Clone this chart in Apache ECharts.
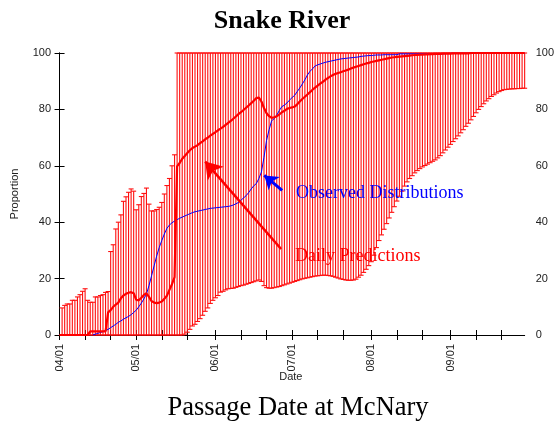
<!DOCTYPE html>
<html>
<head>
<meta charset="utf-8">
<script src="https://cdn.jsdelivr.net/npm/echarts@6/dist/echarts.min.js"></script>
<style>html,body{margin:0;padding:0;background:#fff;}#c{width:557px;height:425px;}</style>
</head>
<body>
<div id="c"></div>
<script>
// Day index 0 = 04/01, axis from 03/31 (-1) to 09/30 (182)
const monthLabels = ['04/01','05/01','06/01','07/01','08/01','09/01'];
const monthDays = [0, 30, 61, 91, 122, 153];
const tickDays = [0,10,20,30,40,50,61,71,81,91,101,111,122,132,142,153,163,173];
const yTicks = [0,20,40,60,80,100];

// Daily prediction interval upper bound (index = day)
const hiVals = [null,
 9.6,10.5,11,11,12.3,12.3,13.5,14.3,15.5,16.4,
 12.3,11.6,11.6,13.5,13.5,14,14.3,15.1,15.4,29.6,
 32,37.6,40,42.6,47.4,49,50.6,51.8,51,44.4,
 46.2,49.1,50.2,52.1,46.4,44,44,44.5,45.3,47,
 50,53,55.5,60,63.9,100,100,100,100,100,
 100,100,100,100,100,100,100,100,100,100,
 100,100,100,100,100,100,100,100,100,100,
 100,100,100,100,100,100,100,100,100,100,
 100,100,100,100,100,100,100,100,100,100,
 100,100,100,100,100,100,100,100,100,100,
 100,100,100,100,100,100,100,100,100,100,
 100,100,100,100,100,100,100,100,100,100,
 100,100,100,100,100,100,100,100,100,100,
 100,100,100,100,100,100,100,100,100,100,
 100,100,100,100,100,100,100,100,100,100,
 100,100,100,100,100,100,100,100,100,100,
 100,100,100,100,100,100,100,100,100,100,
 100,100,100,100,100,100,100,100,100,100,
 100,100];

// Daily prediction interval lower bound
const loVals = [null,
 0,0,0,0,0,0,0,0,0,0,
 0,0,0,0,0,0,0,0,0,0,
 0,0,0,0,0,0,0,0,0,0,
 0,0,0,0,0,0,0,0,0,0,
 0,0,0,0,0,0,0,0,0.3,
 1,2,3.2,3.8,4.8,5.8,7,8.4,9.6,11.2,
 12.3,13.2,14,15.2,15.5,16,16.4,16.5,16.6,16.9,
 17.2,17.5,17.7,18,18.3,18.6,18.9,19.2,19.5,19,
 17.5,16.8,16.6,16.6,16.8,17,17.2,17.5,17.8,18.1,
 18.4,18.7,19,19.3,19.6,19.9,20.1,20.3,20.5,20.7,
 20.9,21,21.1,21.2,21.2,21.1,21,20.8,20.5,20.2,
 19.9,19.7,19.5,19.4,19.4,19.5,19.8,20.5,21.2,22.2,
 23.3,24.6,26,28.3,31,33.5,35.5,37.5,39.5,41.5,
 43.5,45.5,47.5,49.2,51,52.8,54.3,55.5,56.5,57.5,
 58.3,59,59.6,60.1,60.6,61.1,61.6,62.1,62.8,63.6,
 64.6,65.6,66.6,67.6,68.6,69.6,70.6,71.7,72.8,74,
 75.1,76.3,77.5,78.8,80,81,82,83,83.8,84.6,
 85.2,85.8,86.3,86.7,87,87.1,87.2,87.3,87.3,87.4,
 87.4,87.5,87.5];

// Daily prediction (median)
const medVals = [
 0,0,0,0,0,0,0,0,0,0,0,0,
 1.3,1.3,1.3,1.3,1.3,1.3,1.3,
 8,8.8,10,10.8,11.5,13,14,14.6,15,15.2,
 14.8,12.5,12.3,13.2,14.2,14.8,13.5,12,11.5,11.3,
 11.5,11.9,12.8,13.9,16,18,20.5,
 59.8,61,62.5,63.5,64.5,65.5,
 66.3,66.8,67.3,68,68.7,69.4,70,70.7,71.3,71.9,
 72.6,73.2,73.8,74.5,75.2,75.9,76.7,77.5,78.3,79,
 79.8,80.6,81.4,82.2,83.1,84,84.2,82.8,80.5,78.6,
 77.6,77,77.2,77.6,78.2,79,79.5,80.2,80.5,80.7,
 81,81.8,82.8,83.7,84.5,85.3,86.1,87,87.7,88.4,
 89.1,89.8,90.5,91.1,91.7,92.2,92.6,92.9,93.2,93.5,
 93.8,94.1,94.5,94.8,95.1,95.4,95.7,96,96.3,96.5,
 96.8,97,97.2,97.4,97.6,97.8,98,98.2,98.4,98.5,
 98.6,98.7,98.8,98.9,99,99.1,99.2,99.3,99.3,99.4,
 99.4,99.5,99.5,99.6,99.6,99.7,99.7,99.7,99.8,99.8,
 99.8,99.8,99.9,99.9,99.9,99.9,99.9,99.9,99.9,100,
 100,100,100,100,100,100,100,100,100,100,
 100,100,100,100,100,100,100,100,100,100,100];

// Observed distribution
const obsVals = [
 null,null,null,null,null,null,null,null,null,null,null,null,null,
 0,0.3,0.6,0.9,1.2,1.6,2,2.6,3.2,3.8,
 4.5,5,5.6,6.1,6.6,7.2,8,8.8,10,11.3,
 12.8,14.5,17.5,21,24.5,28,31,33.5,35.8,37.8,
 39,39.8,40.4,40.9,41.4,41.8,42.2,42.6,43,43.4,
 43.7,43.9,44.1,44.3,44.5,44.7,44.9,45,45.1,45.2,
 45.3,45.4,45.5,45.6,45.8,46.1,46.5,47,47.8,48.6,
 49.4,50.5,51.8,52.9,53.7,55.5,57.8,63,69,72.8,
 76,76.7,78,79.6,81,81.5,82.3,83.3,84.2,85,
 86.3,87.6,89,90.5,92.2,93.5,94.4,95.4,95.8,96.1,
 96.4,96.7,96.9,97.1,97.3,97.5,97.7,97.9,98,98.1,
 98.2,98.3,98.4,98.5,98.6,98.8,98.9,99,99.1,99.1,
 99.2,99.3,99.3,99.3,99.4,99.4,99.4,99.4,99.4,99.4,
 99.7,99.7,99.7,99.7,99.7,99.7,99.7,99.7,99.7,99.7,
 99.7,99.7,99.7,99.7,99.7,99.7,99.7,99.7,99.8,99.8,
 99.9,99.9,99.9,99.9,99.9,99.9,99.9,99.9,99.9,99.9,
 100,100,100,100,100,100,100,100,100,100,
 100,100,100,100,100,100,100,100,100,100];

// Annotation arrows: [start, end] in [day, proportion]
const redArrow = [[86.7, 30.5], [57.0, 61.5]];
const blueArrow = [[87.1, 51.3], [80.1, 56.6]];

const errData = [];
for (let d = 0; d < hiVals.length; d++) {
  if (hiVals[d] != null && loVals[d] != null) errData.push([d, loVals[d], hiVals[d]]);
}
const medData = medVals.map((v, d) => [d, v]);
const obsData = [];
obsVals.forEach((v, d) => { if (v != null) obsData.push([d, v]); });

const sans = 'Liberation Sans, Arial, sans-serif';
const serif = 'Liberation Serif, Times New Roman, serif';

function renderErr(params, api) {
  const d = api.value(0), lo = api.value(1), hi = api.value(2);
  const p1 = api.coord([d, lo]), p2 = api.coord([d, hi]);
  const hw = 2.5;
  const style = { stroke: '#ff1010', lineWidth: 1.1, fill: null };
  return {
    type: 'group',
    children: [
      { type: 'line', shape: { x1: p1[0], y1: p1[1], x2: p2[0], y2: p2[1] }, style: style },
      { type: 'line', shape: { x1: p1[0] - hw, y1: p1[1], x2: p1[0] + hw, y2: p1[1] }, style: style },
      { type: 'line', shape: { x1: p2[0] - hw, y1: p2[1], x2: p2[0] + hw, y2: p2[1] }, style: style }
    ]
  };
}

const axisLine = { show: true, lineStyle: { color: '#000', width: 1 } };
const chart = echarts.init(document.getElementById('c'), null, { renderer: 'canvas' });
chart.setOption({
  animation: false,
  backgroundColor: '#fff',
  grid: { left: 57, right: 24, top: 53, bottom: 90, containLabel: false },
  graphic: [
    { type: 'text', x: 282, y: 21, style: { text: 'Snake River', font: 'bold 26px ' + serif, fill: '#000', textAlign: 'center', textVerticalAlign: 'middle' } },
    { type: 'text', x: 298, y: 408, style: { text: 'Passage Date at McNary', font: '26.5px ' + serif, fill: '#000', textAlign: 'center', textVerticalAlign: 'middle' } },
    { type: 'text', x: 296, y: 193, z: 10, style: { text: 'Observed Distributions', font: '18px ' + serif, fill: '#0000ff', textAlign: 'left', textVerticalAlign: 'middle' } },
    { type: 'text', x: 295, y: 256, z: 10, style: { text: 'Daily Predictions', font: '18px ' + serif, fill: '#ff0000', textAlign: 'left', textVerticalAlign: 'middle' } }
  ],
  xAxis: [
    {
      type: 'value', min: -1, max: 182, position: 'bottom',
      name: 'Date', nameLocation: 'middle', nameGap: 36, nameMoveOverlap: false,
      nameTextStyle: { fontFamily: sans, fontSize: 11, color: '#222' },
      axisLine: axisLine,
      axisTick: { show: true, inside: true, length: 5, lineStyle: { color: '#000' }, customValues: tickDays },
      axisLabel: {
        show: true, rotate: 90, margin: 9, fontFamily: sans, fontSize: 11, color: '#222',
        customValues: monthDays,
        formatter: function (v) { const i = monthDays.indexOf(v); return i >= 0 ? monthLabels[i] : ''; }
      },
      splitLine: { show: false }
    },
    {
      type: 'value', min: -1, max: 182, position: 'top',
      axisLine: axisLine,
      axisTick: { show: true, inside: true, length: 5, lineStyle: { color: '#000' }, customValues: tickDays },
      axisLabel: { show: false },
      splitLine: { show: false }
    }
  ],
  yAxis: [
    {
      type: 'value', min: 0, max: 100, interval: 20, position: 'left',
      name: 'Proportion', nameLocation: 'middle', nameGap: 37,
      nameTextStyle: { fontFamily: sans, fontSize: 11, color: '#222' },
      axisLine: axisLine,
      axisTick: { show: true, inside: true, length: 5, lineStyle: { color: '#000' }, customValues: yTicks },
      axisLabel: { show: true, margin: 6, fontFamily: sans, fontSize: 11, color: '#222', customValues: yTicks },
      splitLine: { show: false }
    },
    {
      type: 'value', min: 0, max: 100, interval: 20, position: 'right',
      axisLine: axisLine,
      axisTick: { show: true, inside: true, length: 5, lineStyle: { color: '#000' }, customValues: yTicks },
      axisLabel: { show: true, margin: 11, fontFamily: sans, fontSize: 11, color: '#222', customValues: yTicks },
      splitLine: { show: false }
    }
  ],
  series: [
    {
      type: 'custom', name: 'interval', xAxisIndex: 0, yAxisIndex: 0,
      renderItem: renderErr, data: errData, encode: { x: 0, y: [1, 2] }, z: 1, silent: true, clip: false
    },
    {
      type: 'line', name: 'Observed Distributions', xAxisIndex: 0, yAxisIndex: 0,
      data: obsData, showSymbol: false, symbol: 'none', z: 3, silent: true,
      lineStyle: { color: '#0000ff', width: 1 },
      markLine: {
        silent: true, symbol: ['none', 'arrow'], symbolSize: 13, animation: false,
        label: { show: false },
        lineStyle: { color: '#0000ff', width: 3, type: 'solid' },
        emphasis: { disabled: true },
        data: [[{ coord: blueArrow[0] }, { coord: blueArrow[1] }]]
      }
    },
    {
      type: 'line', name: 'Daily Predictions', xAxisIndex: 0, yAxisIndex: 0,
      data: medData, showSymbol: false, symbol: 'none', z: 4, silent: true,
      lineStyle: { color: '#ff0000', width: 2.2 },
      markLine: {
        silent: true, symbol: ['none', 'arrow'], symbolSize: 16, animation: false,
        label: { show: false },
        lineStyle: { color: '#ff0000', width: 2.5, type: 'solid' },
        emphasis: { disabled: true },
        data: [[{ coord: redArrow[0] }, { coord: redArrow[1] }]]
      }
    }
  ]
});
</script>
</body>
</html>
